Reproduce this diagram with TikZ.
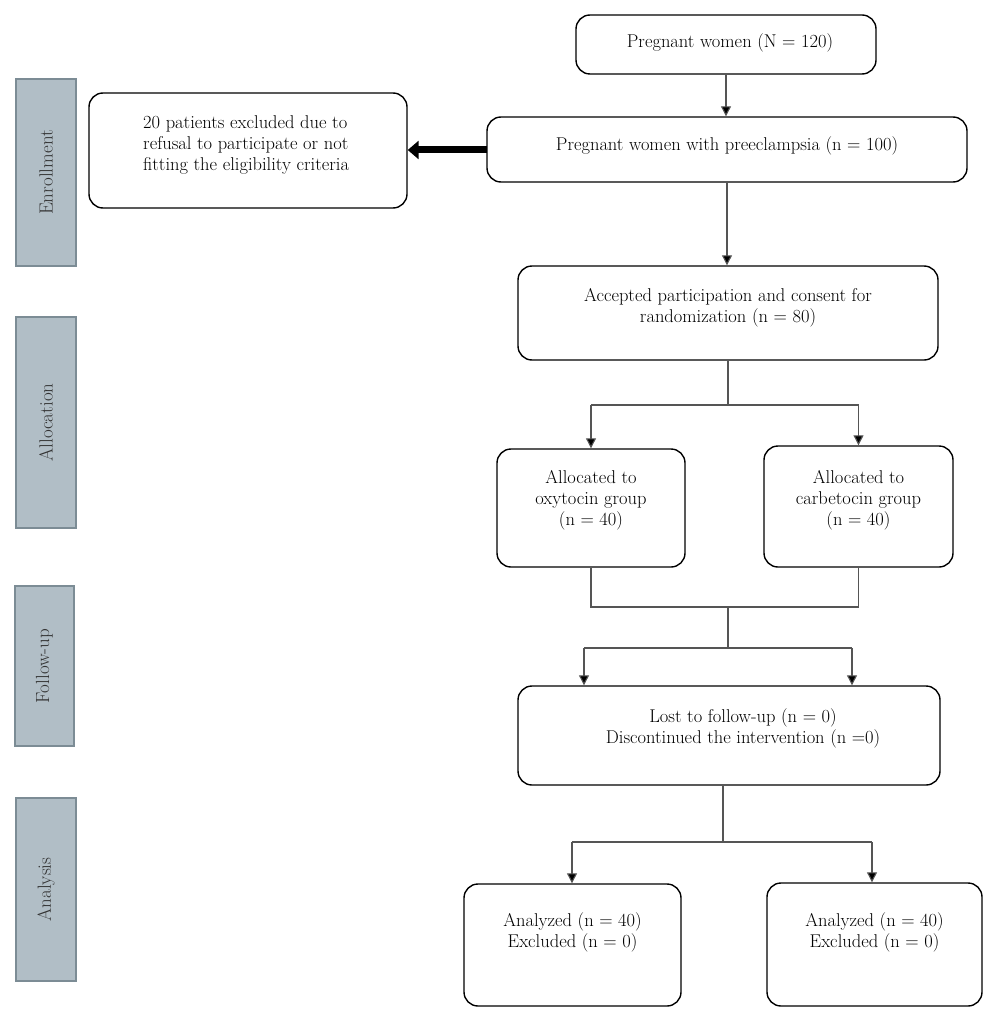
\documentclass[tikz,border=0pt]{standalone}
\usetikzlibrary{arrows.meta}
\definecolor{sidefill}{HTML}{B1BEC6}
\definecolor{sideborder}{HTML}{7C8C95}
\definecolor{sidetext}{HTML}{333333}
\definecolor{linegray}{HTML}{555555}
\begin{document}
\begin{tikzpicture}[x=1pt,y=-1pt,
  box/.style={draw=black, line width=1.4pt, rounded corners=14pt, inner sep=0pt},
  txt/.style={font=\fontsize{18.5}{21}\selectfont, align=center, inner sep=0pt},
  side/.style={draw=sideborder, fill=sidefill, line width=1.2pt, rotate=90, inner sep=0pt,
               font=\fontsize{19}{22}\selectfont, text=sidetext},
  conn/.style={draw=linegray, line width=1.1pt},
  arr/.style={conn, -{Triangle[length=10pt,width=10pt,fill=black]}},
]
\useasboundingbox (0,0) rectangle (1000,1011);

% side bars
\node[side, minimum width=187pt, minimum height=60pt] (s1) at (46,172.5) {Enrollment};
\node[side, minimum width=211pt, minimum height=60pt] (s2) at (46,422.5) {Allocation};
\node[side, minimum width=160pt, minimum height=59pt] (s3) at (44.5,666) {Follow-up};
\node[side, minimum width=183pt, minimum height=60pt] (s4) at (46,889.5) {Analysis};

% boxes
\node[box, minimum width=300pt, minimum height=59pt] (b1) at (726,44.5) {};
\node[box, minimum width=480pt, minimum height=65pt] (b2) at (727,149.5) {};
\node[box, minimum width=318pt, minimum height=115pt] (ex) at (248,150.5) {};
\node[box, minimum width=420pt, minimum height=94pt] (b3) at (728,313) {};
\node[box, minimum width=188pt, minimum height=118pt] (ox) at (591,508) {};
\node[box, minimum width=189pt, minimum height=121pt] (ca) at (858.5,506.5) {};
\node[box, minimum width=422pt, minimum height=99pt] (lost) at (729,735.5) {};
\node[box, minimum width=217pt, minimum height=122pt] (an1) at (572.5,945) {};
\node[box, minimum width=215pt, minimum height=123pt] (an2) at (874.5,944.5) {};

% texts
\node[txt] (t1) at (730,43) {Pregnant women (N = 120)};
\node[txt] (t2) at (727,146) {Pregnant women with preeclampsia (n = 100)};
\node[txt, align=left, anchor=west] (tex) at (143,145) {20 patients excluded due to\\refusal to participate or not\\fitting the eligibility criteria};
\node[txt] (t3) at (728,308) {Accepted participation and consent for\\randomization (n = 80)};
\node[txt] (tox) at (591,500) {Allocated to\\oxytocin group\\(n = 40)};
\node[txt] (tca) at (858.5,500) {Allocated to\\carbetocin group\\(n = 40)};
\node[txt] (tlost) at (743,728) {Lost to follow-up (n = 0)\\Discontinued the intervention (n =0)};
\node[txt] (tan1) at (572.5,932) {Analyzed (n = 40)\\Excluded (n = 0)};
\node[txt] (tan2) at (874.5,932) {Analyzed (n = 40)\\Excluded (n = 0)};

% junction coordinates
\coordinate (j1) at (728,405);
\coordinate (j2) at (728,607);
\coordinate (j3) at (728,648);
\coordinate (f1) at (584,648);
\coordinate (f2) at (852,648);
\coordinate (j4) at (723,842);
\coordinate (g1) at (572,842);
\coordinate (g2) at (872,842);
\coordinate (ea) at (487,150);

% connectors
\draw[arr] (b1.south) -- (b1.south |- b2.north);
\draw[arr] (b2.south) -- (b2.south |- b3.north);
\draw[line width=7pt, -{Triangle[length=11pt,width=18pt]}] (ea) -- (ea -| ex.east);

\draw[conn] (j1 |- b3.south) -- (j1);
\draw[conn] (ox.north |- j1) -- (ca.north |- j1);
\draw[arr] (ox.north |- j1) -- (ox.north);
\draw[arr] (ca.north |- j1) -- (ca.north);

\draw[conn] (ox.south) -- (ox.south |- j2) -- (ca.south |- j2) -- (ca.south);
\draw[conn] (j2) -- (j3);
\draw[conn] (f1) -- (f2);
\draw[arr] (f1) -- (f1 |- lost.north);
\draw[arr] (f2) -- (f2 |- lost.north);

\draw[conn] (j4 |- lost.south) -- (j4);
\draw[conn] (g1) -- (g2);
\draw[arr] (g1) -- (g1 |- an1.north);
\draw[arr] (g2) -- (g2 |- an2.north);
\end{tikzpicture}
\end{document}
